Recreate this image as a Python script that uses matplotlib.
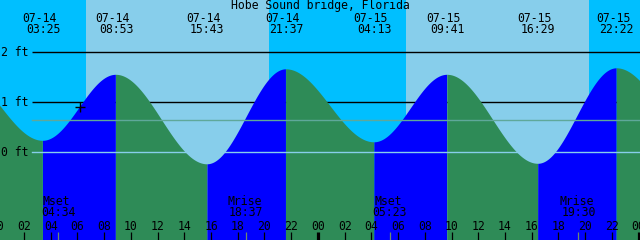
import numpy as np
import matplotlib
matplotlib.use("Agg")
import matplotlib.pyplot as plt
import matplotlib.transforms as mtransforms

# ---------------- data ----------------
title = "Hobe Sound bridge, Florida"
tide_dates = ["07-14", "07-14", "07-14", "07-14", "07-15", "07-15", "07-15", "07-15"]
tide_times = ["03:25", "08:53", "15:43", "21:37", "04:13", "09:41", "16:29", "22:22"]
tide_day = [0, 0, 0, 0, 1, 1, 1, 1]
tide_ft = [0.23, 1.55, -0.24, 1.66, 0.20, 1.55, -0.23, 1.68]
# neighbouring extremes just outside the window (estimated)
prev_hour, prev_ft = -2.9, 1.60
next_hour, next_ft = 52.9, 0.15

moon_labels = ["Mset", "Mrise", "Mset", "Mrise"]
moon_times = ["04:34", "18:37", "05:23", "19:30"]
moon_day = [0, 0, 1, 1]

sunrise_times = ["06:37", "06:36"]
sunset_times = ["20:20", "20:18"]

now_hour = 6.19
level_lines_ft = [1, 2]
label_ft = [2, 1, 0]
mean_ft = 0.64
hour_ticks = list(range(0, 50, 2))


def to_h(t, day):
    hh, mm = t.split(":")
    return day * 24 + int(hh) + int(mm) / 60.0


tide_h = [to_h(t, d) for t, d in zip(tide_times, tide_day)]
moon_h = [to_h(t, d) for t, d in zip(moon_times, moon_day)]
rise_h = [to_h(t, d) for d, t in enumerate(sunrise_times)]
set_h = [to_h(t, d) for d, t in enumerate(sunset_times)]

ext_h = np.array([prev_hour] + tide_h + [next_hour])
ext_v = np.array([prev_ft] + tide_ft + [next_ft])


def tide(h):
    h = np.atleast_1d(h).astype(float)
    i = np.clip(np.searchsorted(ext_h, h) - 1, 0, len(ext_h) - 2)
    h0, h1 = ext_h[i], ext_h[i + 1]
    v0, v1 = ext_v[i], ext_v[i + 1]
    t = (h - h0) / (h1 - h0)
    return v0 + (v1 - v0) * (1 - np.cos(np.pi * t)) / 2


# ---------------- style ----------------
NIGHT = "#00BFFF"
DAY = "#87CEEB"
FLOOD = "#0000FF"
EBB = "#2E8B57"
MEANC = "#5FA89A"
ZEROC = "#87CEEB"
FONT = dict(family="DejaVu Sans Mono", fontsize=8.3, color="black")

X0, X1 = 0.202, 48.11
Y0, Y1 = -1.754, 3.046

fig = plt.figure(figsize=(6.4, 2.4), dpi=100)
ax = fig.add_axes([0, 0, 1, 1])
ax.set_xlim(X0, X1)
ax.set_ylim(Y0, Y1)
ax.axis("off")

# sky
ax.axvspan(X0 - 1, X1 + 1, color=NIGHT, zorder=0, lw=0)
for r, s in zip(rise_h, set_h):
    ax.axvspan(r, s, color=DAY, zorder=0.1, lw=0)

# reference lines behind water
line_start = 2.6
for lv in level_lines_ft:
    ax.plot([line_start, X1 + 1], [lv, lv], color="black", lw=1.0, zorder=1,
            solid_capstyle="butt")

# water
hh = np.linspace(X0 - 0.5, X1 + 0.5, 4000)
vv = tide(hh)
rising = np.gradient(vv) > 0
ax.fill_between(hh, Y0 - 1, vv, where=rising, color=FLOOD, lw=0, zorder=2,
                interpolate=True)
ax.fill_between(hh, Y0 - 1, vv, where=~rising, color=EBB, lw=0, zorder=2,
                interpolate=True)

# lines over water
ax.plot([line_start, X1 + 1], [mean_ft, mean_ft], color=MEANC, lw=1.0, zorder=3)
ax.plot([line_start, X1 + 1], [0, 0], color=ZEROC, lw=1.0, zorder=3)

# current-time marker
ax.plot([now_hour], tide(now_hour), marker="+", color="black", ms=7, mew=1.0,
        zorder=4)

# height labels
for lv in label_ft:
    ax.text(0.3, lv, f"{lv} ft", ha="left", va="center", zorder=5, **FONT)

# title
ax.text(0.5, 1 - 6 / 240, title, transform=ax.transAxes, ha="center",
        va="center", zorder=5, **FONT)

# tide event labels
top = mtransforms.blended_transform_factory(ax.transData, ax.transAxes)
for d, t, h in zip(tide_dates, tide_times, tide_h):
    ax.text(h - 0.26, 1 - 18 / 240, d, transform=top, ha="center", va="center",
            zorder=5, **FONT)
    ax.text(h, 1 - 29.5 / 240, t, transform=top, ha="center", va="center",
            zorder=5, **FONT)

# moon labels
for lab, t, h in zip(moon_labels, moon_times, moon_h):
    ax.text(h - 0.12, 1 - 201.5 / 240, lab, transform=top, ha="center",
            va="center", zorder=5, **FONT)
    ax.text(h, 1 - 213 / 240, t, transform=top, ha="center", va="center",
            zorder=5, **FONT)

# hour labels and ticks
for h in hour_ticks:
    ax.text(h, 14 / 240, f"{h % 24:02d}", transform=top, ha="center",
            va="center", zorder=5, **FONT)
    if h % 24 == 0:
        ax.plot([h, h], [0, 8.5 / 240], transform=top, color="black", lw=2.3,
                zorder=5, solid_capstyle="butt")
    else:
        ax.plot([h, h], [0, 8.5 / 240], transform=top, color="black", lw=0.9,
                zorder=5, solid_capstyle="butt")
for h in moon_h:
    ax.plot([h, h], [0, 8.5 / 240], transform=top, color="#6E8B6E", lw=0.9,
            zorder=5, solid_capstyle="butt")

fig.savefig("out.png", dpi=100)
